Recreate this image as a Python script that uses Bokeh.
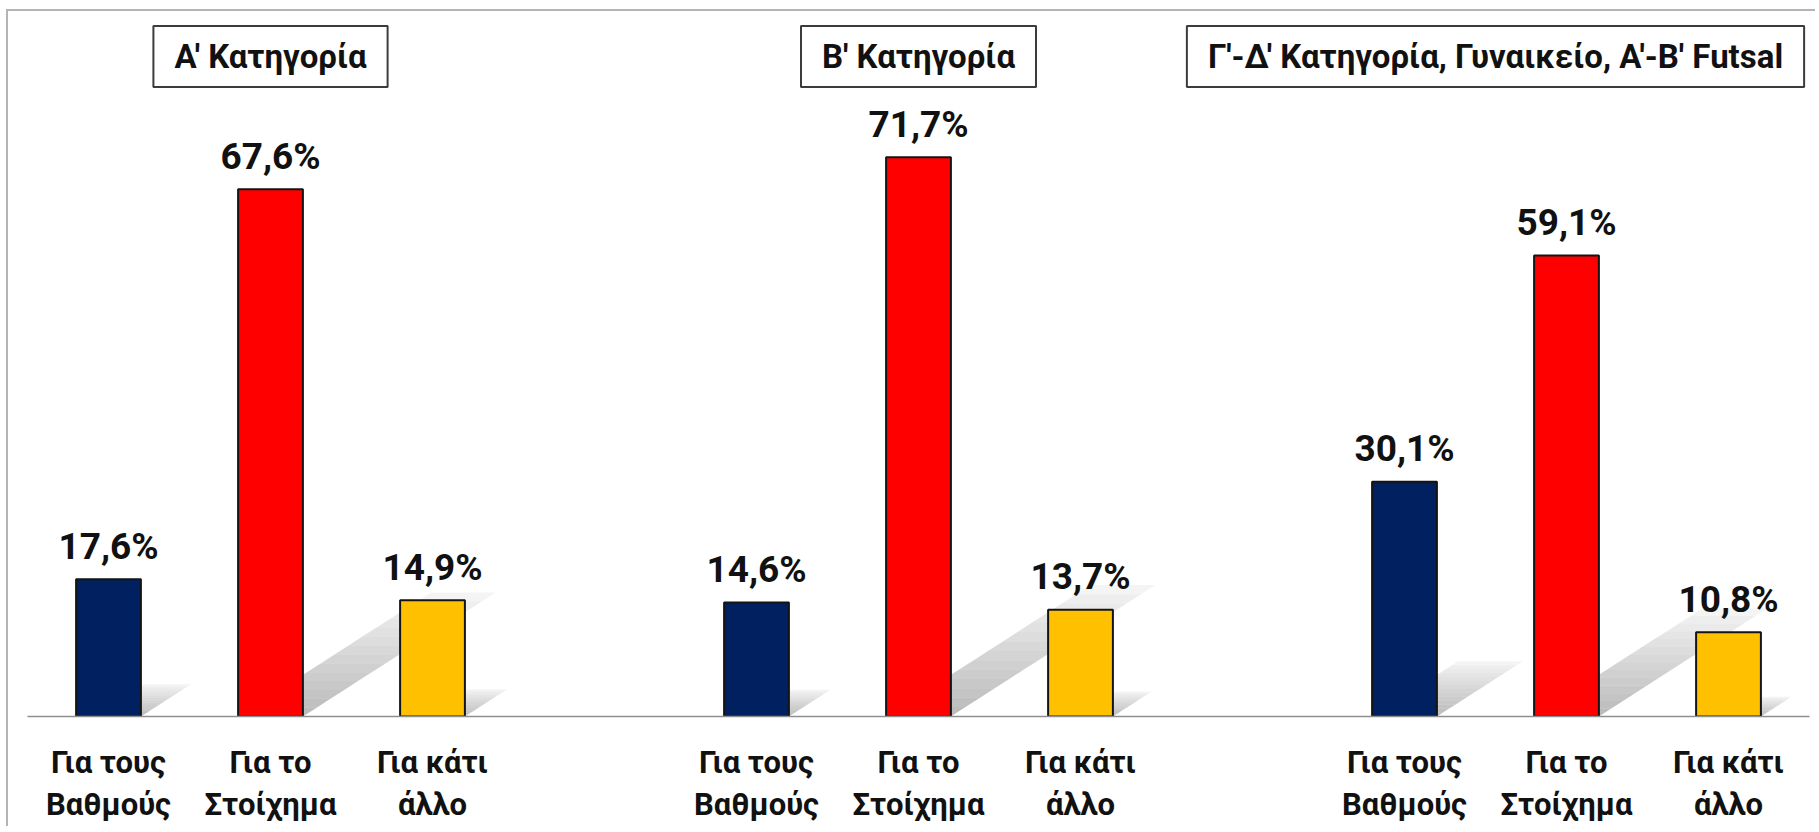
from bokeh.plotting import figure
from bokeh.models import Label, FixedTicker, Range1d, ColumnDataSource
from bokeh.core.properties import value
from bokeh.embed import file_html
from bokeh.resources import INLINE

# ---------------- data ----------------
group_titles = ["Α' Κατηγορία", "Β' Κατηγορία", "Γ'-Δ' Κατηγορία, Γυναικείο, Α'-Β' Futsal"]
categories = ["Για τους\nΒαθμούς", "Για το\nΣτοίχημα", "Για κάτι\nάλλο"]
values_a = [17.6, 67.6, 14.9]
values_b = [14.6, 71.7, 13.7]
values_c = [30.1, 59.1, 10.8]
bar_colors = ["#002060", "#FF0000", "#FFC000"]

FONT = "Roboto"
BAR_W = 0.40

groups = [values_a, values_b, values_c]
x_pos, vals, cols, texts = [], [], [], []
for g, gv in enumerate(groups):
    for c, v in enumerate(gv):
        x_pos.append(g * 4 + c)
        vals.append(v)
        cols.append(bar_colors[c])
        texts.append(f"{v:.1f}".replace(".", ",") + "%")

src = ColumnDataSource(dict(x=x_pos, top=vals, color=cols, label=texts))

p = figure(frame_width=1782, frame_height=705, output_backend="svg", toolbar_location=None,
           x_range=Range1d(-0.5, 10.5), y_range=Range1d(0, 90.38),
           y_axis_location=None, min_border_left=19, min_border_right=6,
           min_border_top=0, min_border_bottom=100, tools="")
p.margin = (9, 0, 0, 6)
p.styles = {"border-top": "2px solid #b4b4b4", "border-left": "2px solid #b4b4b4"}
p.outline_line_color = None
p.xgrid.visible = False
p.ygrid.visible = False
p.background_fill_color = "white"
p.border_fill_color = "white"

# ---------------- shadows ----------------
sx, sy, sa = [], [], []
N = 14
for x, v in zip(x_pos, vals):
    dx = 0.0176 * v
    hs = 0.235 * v
    x0, x1 = x - BAR_W / 2, x + BAR_W / 2
    for k in range(N):
        t0, t1 = k / N, (k + 1) / N
        sx.append([x0 + t0 * dx, x1 + t0 * dx, x1 + t1 * dx, x0 + t1 * dx])
        sy.append([t0 * hs, t0 * hs, t1 * hs, t1 * hs])
        sa.append(0.52 * (1 - t0) ** 0.9 + 0.05)
p.patches(xs=sx, ys=sy, fill_color="#8a8a8a", fill_alpha=sa, line_color=None)

# ---------------- bars ----------------
p.vbar(x="x", top="top", width=BAR_W, bottom=0, source=src, fill_color="color",
       line_color="#141414", line_width=2)

# value labels
p.text(x="x", y="top", text="label", source=src, text_align="center",
       text_baseline="alphabetic", y_offset=-33, text_font=value(FONT),
       text_font_style="bold", text_font_size="37px", text_color="#111111")

# group titles in boxes
title_offsets = [0, 0, -71]
for g, t in enumerate(group_titles):
    lab = Label(x=g * 4 + 1, y=84.6, text=t, x_offset=title_offsets[g],
                text_align="center", text_baseline="middle",
                text_font=FONT, text_font_style="bold", text_font_size="33px",
                text_color="#111111", border_line_color="#3c3c3c", border_line_width=2,
                background_fill_color="white", padding=(21, 11))
    p.add_layout(lab)

# x axis with category labels
ax = p.xaxis[0]
ax.ticker = FixedTicker(ticks=x_pos)
ax.major_label_overrides = {x: categories[i % 3] for i, x in enumerate(x_pos)}
ax.axis_line_color = "#8f8f8f"
ax.axis_line_width = 1.5
ax.major_tick_line_color = None
ax.minor_tick_line_color = None
ax.major_label_standoff = 21
ax.major_label_text_font = FONT
ax.major_label_text_font_style = "bold"
ax.major_label_text_font_size = "31px"
ax.major_label_text_color = "#111111"
ax.major_label_text_line_height = 1.15

open("out.html", "w").write(file_html(p, INLINE))
